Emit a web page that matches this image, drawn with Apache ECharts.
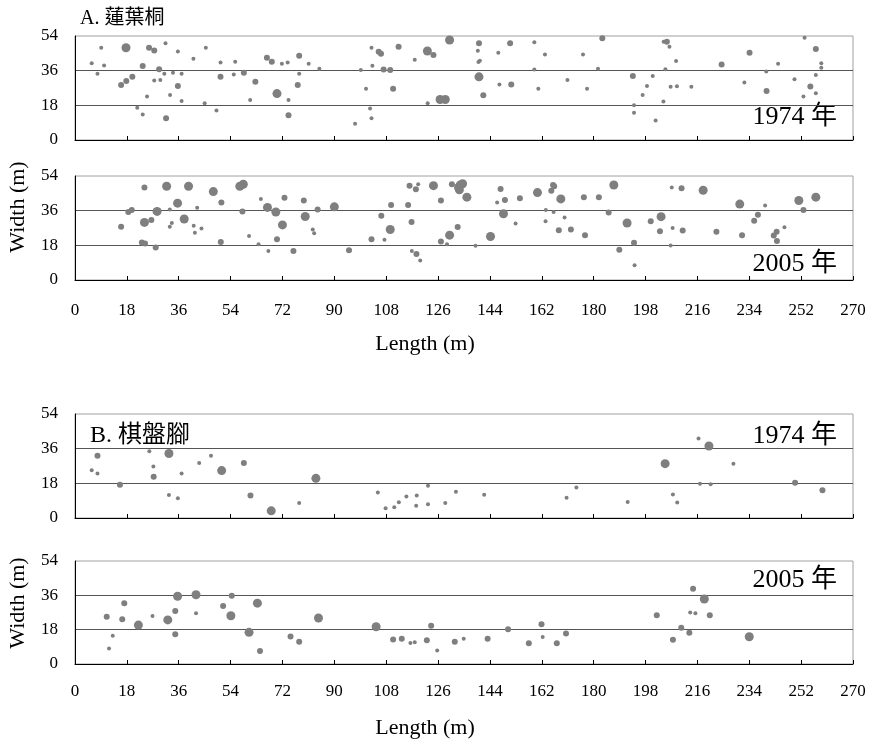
<!DOCTYPE html>
<html>
<head>
<meta charset="utf-8">
<script src="https://cdn.jsdelivr.net/npm/echarts@6/dist/echarts.min.js"></script>
<style>
  html, body { margin: 0; padding: 0; background: #fff; }
  #chart { width: 886px; height: 744px; }
</style>
</head>
<body>
<div id="chart"></div>
<script>
// Tree positions per plot: [length (m), width (m), crown size class 1..3]
const a1974 = [
  [9.1,47.9,1],[17.7,47.9,3],[25.7,47.9,2],[27.5,46.5,2],[31.4,50.3,1],[35.7,46.0,1],[45.4,47.9,1],
  [5.8,39.9,1],[10.1,38.7,1],[23.5,38.4,2],[29.2,36.8,2],[41.1,42.2,1],[50.5,40.3,1],[55.6,40.6,1],
  [66.6,42.7,2],[68.3,40.6,2],[71.8,39.6,1],[73.8,40.3,1],[77.8,43.7,2],[81.1,39.6,1],[84.8,37.0,1],
  [7.8,34.4,1],[19.9,32.8,2],[17.8,30.6,2],[16.0,28.5,2],[27.5,30.9,1],[29.6,31.2,1],[31.0,34.4,1],
  [34.0,34.9,1],[37.0,34.4,1],[35.7,28.1,2],[50.5,32.8,2],[55.1,34.0,1],[58.6,34.9,2],[62.6,30.2,2],
  [77.8,34.4,1],[77.3,28.5,2],[70.1,24.1,3],
  [25.0,22.6,1],[33.0,23.4,1],[37.0,20.3,1],[45.0,19.1,1],[60.8,20.8,1],[74.1,20.8,1],[21.6,16.8,1],
  [23.5,13.2,1],[31.6,11.3,2],[49.1,15.3,1],[74.1,12.8,2],
  [102.9,47.9,1],[105.4,45.8,2],[106.2,44.8,2],[112.3,48.4,2],[117.9,41.7,1],[122.3,46.2,3],[124.4,44.1,2],
  [130.0,51.9,3],[140.2,50.3,2],[139.8,46.3,1],[140.0,40.5,1],[140.5,41.1,1],[146.9,45.3,1],[151.0,50.3,2],
  [159.4,50.7,1],[163.1,44.4,1],[176.3,44.4,1],[183.0,52.8,2],[103.2,38.5,1],[99.2,36.3,1],[107.1,36.6,2],
  [109.4,36.3,2],[159.4,36.6,1],[181.5,37.0,1],[140.2,32.8,3],[101.0,26.6,1],[110.4,26.6,2],[147.3,28.8,1],
  [151.4,28.8,2],[160.8,26.6,1],[170.9,31.2,1],[177.7,26.6,1],[141.7,23.3,2],[126.7,21.0,3],[128.5,21.0,3],
  [122.4,19.1,1],[102.4,16.3,1],[102.9,11.3,1],[97.2,8.5,1],
  [204.3,51.0,1],[205.4,51.0,2],[206.3,48.4,1],[253.2,53.1,1],[257.1,47.2,2],[234.1,45.3,2],[208.6,41.0,1],
  [224.4,39.2,2],[244.0,39.6,1],[259.0,39.9,1],[259.0,37.5,1],[204.9,36.8,1],[239.9,35.6,1],[193.6,33.2,2],
  [200.5,33.2,1],[257.1,33.7,1],[249.7,31.6,1],[198.5,28.1,1],[206.7,27.6,1],[208.9,27.9,1],[213.9,27.6,1],
  [232.3,29.9,1],[240.0,25.5,2],[255.2,27.8,2],[197.0,23.4,1],[252.8,22.6,1],[257.1,24.3,1],[204.2,20.0,1],
  [194.0,18.0,1],[194.0,14.1,1],[201.5,10.1,1]
];
const a2005 = [
  [24.1,48.0,2],[31.8,48.7,3],[39.4,48.7,3],[48.0,45.9,3],[57.2,48.7,3],[58.4,49.7,3],[64.5,42.1,1],
  [72.7,42.7,2],[79.4,41.3,2],[90.0,38.0,3],[35.6,39.9,3],[50.8,40.2,2],[42.4,37.5,1],[32.9,36.6,1],
  [18.5,35.3,2],[19.7,36.3,2],[28.5,35.6,3],[58.1,35.6,2],[66.8,37.7,3],[69.7,35.3,3],[84.2,36.6,2],
  [79.9,33.0,3],[16.0,27.6,2],[24.1,29.9,3],[26.5,31.2,2],[33.6,29.6,1],[32.9,27.7,1],[37.9,31.7,3],
  [41.2,28.2,1],[43.9,26.7,1],[41.6,24.5,1],[72.0,28.6,3],[60.4,22.8,1],[82.5,26.2,1],[83.0,24.3,1],
  [70.1,21.2,2],[23.2,19.5,2],[24.3,19.0,2],[50.6,19.7,2],[63.7,18.5,1],[28.0,16.9,2],[67.1,15.0,1],
  [75.8,15.0,2],
  [116.1,49.0,2],[119.1,49.7,1],[118.3,47.1,2],[124.4,49.0,3],[130.8,49.7,2],[133.7,49.3,3],[133.1,48.0,3],
  [134.5,50.0,3],[133.4,46.8,3],[136.0,43.0,3],[127.0,41.3,2],[109.7,39.0,2],[115.6,39.0,2],[106.3,33.4,2],
  [116.8,30.1,2],[109.4,26.2,3],[102.9,21.2,2],[107.4,20.9,1],[95.1,15.4,2],[116.9,15.0,1],[118.5,13.5,2],
  [119.8,10.1,1],[127.0,20.0,2],[129.1,18.5,1],[130.0,23.3,3],[132.8,27.5,2],[139.0,17.8,1],[144.2,22.6,3],
  [147.7,47.3,2],[149.2,41.6,2],[146.5,40.2,1],[148.7,34.4,3],[152.9,29.3,1],[154.4,42.5,2],[160.5,45.4,3],
  [165.3,46.4,2],[165.9,49.3,2],[166.3,48.7,2],[168.6,42.1,3],[163.4,36.3,1],[166.1,35.3,1],[163.3,30.5,1],
  [169.9,32.5,1],[167.9,25.8,2],[172.1,26.2,2],[177.0,23.3,2],[176.6,43.0,2],[181.8,43.0,2],
  [187.0,49.3,3],[185.2,35.1,2],[191.6,29.6,3],[194.0,19.3,2],[188.9,15.7,2],[194.2,7.7,1],[199.8,30.5,2],
  [203.4,32.9,3],[203.0,25.3,2],[207.4,27.0,1],[210.9,25.7,2],[207.1,48.0,1],[210.5,47.6,2],[218.0,46.6,3],
  [206.7,17.9,1],[222.6,25.0,2],[231.5,23.3,2],[230.7,39.4,3],[239.5,38.7,1],[237.0,33.9,2],[235.7,30.8,2],
  [246.2,27.4,1],[243.5,25.0,2],[242.5,23.1,2],[243.6,20.2,2],[251.2,41.3,3],[252.8,36.3,2],[257.1,43.0,3]
];
const b1974 = [
  [7.8,32.3,2],[25.8,34.6,1],[32.6,33.5,3],[47.2,32.3,1],[27.2,26.8,1],[43.1,28.5,1],[58.6,28.5,2],
  [5.8,24.8,1],[7.8,23.1,1],[27.3,21.4,2],[37.0,23.1,1],[50.9,24.6,3],[83.6,20.6,3],[15.6,17.2,2],
  [32.6,11.9,1],[35.7,10.2,1],[60.9,11.7,2],[77.8,7.8,1],[68.1,3.7,3],
  [105.1,13.2,1],[107.8,5.1,1],[110.8,5.6,1],[112.4,8.2,1],[115.0,11.2,1],[118.6,11.7,1],[118.4,6.3,1],
  [122.5,16.8,1],[122.5,7.1,1],[128.5,7.8,1],[132.2,13.6,1],[142.0,12.1,1],[170.6,10.5,1],[174.0,15.8,1],
  [216.4,41.3,1],[220.0,37.4,3],[204.8,28.2,3],[228.5,28.2,1],[216.9,17.8,1],[220.6,17.5,1],[249.9,18.3,2],
  [259.4,14.4,2],[207.5,12.2,1],[209.0,8.0,1],[191.8,8.3,1]
];
const b2005 = [
  [17.1,31.9,2],[11.0,24.8,2],[16.4,23.4,2],[22.0,20.4,3],[26.9,25.1,1],[32.2,23.1,3],[34.8,27.8,2],
  [35.6,35.5,3],[42.0,36.3,3],[42.0,26.6,1],[54.4,35.8,2],[51.4,30.4,2],[54.1,25.3,3],[63.3,31.9,3],
  [84.5,24.1,3],[13.1,14.8,1],[34.8,15.6,2],[60.4,16.6,3],[74.8,14.4,2],[77.8,11.7,2],[11.8,8.1,1],
  [64.2,6.8,2],
  [104.5,19.5,3],[110.4,12.9,2],[113.4,13.2,2],[116.4,11.0,1],[117.9,11.4,1],[122.1,12.4,2],[123.6,20.0,2],
  [125.7,7.1,1],[131.8,11.7,2],[134.9,13.2,1],[143.2,13.2,2],[150.3,18.2,2],[157.5,10.9,2],[161.9,20.9,2],
  [162.3,14.1,1],[167.2,10.9,2],[170.4,16.0,2],
  [214.5,39.4,2],[218.4,34.1,3],[201.9,25.5,2],[213.5,27.0,1],[215.3,26.6,1],[220.3,25.5,2],[210.4,19.0,2],
  [213.2,16.4,2],[207.5,12.7,2],[234.0,14.3,3]
];
const panelYears = ['1974 年', '2005 年', '1974 年', '2005 年'];
const groupTitles = ['A. 蓮葉桐', 'B. 棋盤腳'];

const SERIF = '"Liberation Serif", "DejaVu Serif", "Noto Sans CJK TC", serif';
const DOT = '#7f7f7f';
const classSize = c => (c === 3 ? 9 : c === 2 ? 6 : 4);

// panel frames (px)
const panels = [
  { top: 36, height: 104, labels: false, data: a1974 },
  { top: 176, height: 104, labels: true, data: a2005, margin: 22 },
  { top: 414, height: 104, labels: false, data: b1974 },
  { top: 561, height: 103, labels: true, data: b2005, margin: 19 }
];

const chart = echarts.init(document.getElementById('chart'), null, { renderer: 'canvas' });

const grid = panels.map(p => ({
  left: 75, right: 33, top: p.top, height: p.height,
  show: true, borderColor: '#a0a0a0', borderWidth: 1, backgroundColor: 'transparent'
}));

const xAxis = panels.map((p, i) => ({
  gridIndex: i, type: 'value', min: 0, max: 270, interval: 18,
  axisLine: { show: true, onZero: false, lineStyle: { color: '#000', width: 1 } },
  axisTick: { show: true, inside: true, length: 4, lineStyle: { color: '#000' } },
  axisLabel: { show: p.labels, color: '#000', fontFamily: SERIF, fontSize: 17, margin: p.margin || 8 },
  splitLine: { show: false }
}));

const yAxis = panels.map((p, i) => ({
  gridIndex: i, type: 'value', min: 0, max: 54, interval: 18,
  axisLine: { show: true, onZero: false, lineStyle: { color: '#000', width: 1 } },
  axisTick: { show: false },
  axisLabel: { color: '#000', fontFamily: SERIF, fontSize: 17, margin: 17 },
  splitLine: { show: true, showMinLine: false, showMaxLine: false, lineStyle: { color: '#555', width: 1 } }
}));

const series = panels.map((p, i) => ({
  type: 'scatter', xAxisIndex: i, yAxisIndex: i,
  symbol: 'circle',
  symbolSize: v => classSize(v[2]),
  itemStyle: { color: DOT, opacity: 1 },
  silent: true,
  data: p.data
}));

function text(str, x, y, size, align, extra) {
  return Object.assign({
    type: 'text', x, y,
    style: {
      text: str, font: size + 'px ' + SERIF, fill: '#000',
      textAlign: align || 'left', textVerticalAlign: 'middle'
    }
  }, extra || {});
}

const graphic = [
  text(groupTitles[0], 80, 19, 20),
  text(groupTitles[1], 90, 436, 24),
  text(panelYears[0], 837, 117, 26, 'right'),
  text(panelYears[1], 837, 264, 26, 'right'),
  text(panelYears[2], 837, 436, 26, 'right'),
  text(panelYears[3], 837, 580, 26, 'right'),
  text('Length (m)', 425, 344, 22, 'center'),
  text('Length (m)', 425, 728, 22, 'center'),
  text('Width (m)', 18, 207, 22, 'center', { rotation: Math.PI / 2 }),
  text('Width (m)', 18, 603, 22, 'center', { rotation: Math.PI / 2 })
];

chart.setOption({
  animation: false,
  backgroundColor: '#fff',
  grid, xAxis, yAxis, series, graphic
});
</script>
</body>
</html>
